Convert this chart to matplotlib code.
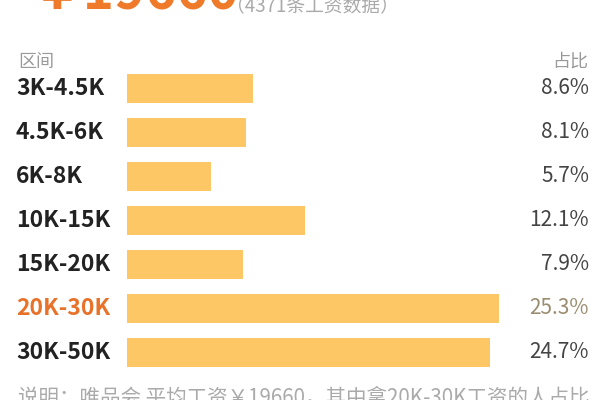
import matplotlib
matplotlib.use("Agg")
import matplotlib.pyplot as plt

plt.rcParams['font.family'] = ['Noto Sans CJK SC', 'DejaVu Sans']

categories = ["3K-4.5K", "4.5K-6K", "6K-8K", "10K-15K", "15K-20K", "20K-30K", "30K-50K"]
shares = [8.6, 8.1, 5.7, 12.1, 7.9, 25.3, 24.7]
share_labels = ["8.6%", "8.1%", "5.7%", "12.1%", "7.9%", "25.3%", "24.7%"]
highlight = "20K-30K"

W, H = 600, 400
fig = plt.figure(figsize=(6, 4), dpi=100)
fig.patch.set_facecolor("white")

def fx(px):
    return px / W

def fy(py):
    return 1 - py / H

# bar axes
row0, step = 88.5, 44.0
ax_left, ax_right = 127, 527
ax_top = row0 - step / 2
ax_bottom = ax_top + step * len(categories)
ax = fig.add_axes([fx(ax_left), fy(ax_bottom), fx(ax_right - ax_left), (ax_bottom - ax_top) / H])
ax.set_xlim(0, (ax_right - ax_left) / 14.7)
ax.set_ylim(len(categories) - 0.5, -0.5)
ax.barh(range(len(categories)), shares, height=0.66, color="#FCC764", edgecolor="none")
ax.axis("off")

# row labels
for i, (c, lab) in enumerate(zip(categories, share_labels)):
    ycen = row0 + i * step
    if c == highlight:
        ccol, pcol = "#E8722A", "#9A8C70"
    else:
        ccol, pcol = "#222222", "#444444"
    fig.text(fx(16), fy(ycen), c, fontsize=16.5, fontweight="bold", color=ccol,
             ha="left", va="center")
    fig.text(fx(589), fy(ycen), lab, fontsize=15, color=pcol, ha="right", va="center")

# headers
fig.text(fx(18), fy(62), "区间", fontsize=13, color="#999999", ha="left", va="center")
fig.text(fx(588), fy(62), "占比", fontsize=13, color="#999999", ha="right", va="center")

# top (cut off) title
fig.text(fx(31), fy(10), "￥19660", fontsize=38, fontweight="bold", color="#EE7A2A",
         ha="left", va="baseline")
fig.text(fx(226), fy(11), "（4371条工资数据）", fontsize=13.5, color="#AAAAAA",
         ha="left", va="baseline")

# bottom note (cut off)
fig.text(fx(18), fy(404), "说明：唯品会 平均工资￥19660，其中拿20K-30K工资的人占比",
         fontsize=14.8, color="#AAAAAA", ha="left", va="baseline")

fig.savefig("out.png", dpi=100, facecolor="white")
